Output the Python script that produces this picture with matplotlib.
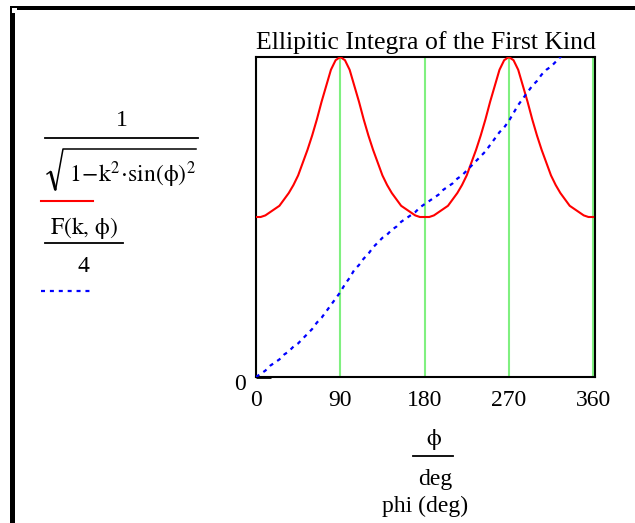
import matplotlib
matplotlib.use("Agg")
import matplotlib.pyplot as plt
from matplotlib.patches import Rectangle
from matplotlib.lines import Line2D
from matplotlib.transforms import ScaledTranslation

plt.rcParams['font.family'] = ['Liberation Serif', 'DejaVu Serif']
plt.rcParams['mathtext.fontset'] = 'stix'

# data
phi_red = list(range(0, 365, 5))
red_vals = [1.00, 1.00, 1.01, 1.03, 1.05, 1.07, 1.11, 1.15, 1.20, 1.26,
            1.34, 1.42, 1.51, 1.61, 1.72, 1.82, 1.92, 1.98, 2.00,
            1.98, 1.92, 1.82, 1.72, 1.61, 1.51, 1.42, 1.34, 1.26, 1.20,
            1.15, 1.11, 1.07, 1.05, 1.03, 1.01, 1.00, 1.00,
            1.00, 1.01, 1.03, 1.05, 1.07, 1.11, 1.15, 1.20, 1.26,
            1.34, 1.42, 1.51, 1.61, 1.72, 1.82, 1.92, 1.98, 2.00,
            1.98, 1.92, 1.82, 1.72, 1.61, 1.51, 1.42, 1.34, 1.26, 1.20,
            1.15, 1.11, 1.07, 1.05, 1.03, 1.01, 1.00, 1.00]
phi_blue = list(range(0, 365, 5))
blue_vals = [0.00, 0.02, 0.04, 0.07, 0.09, 0.11, 0.14, 0.16, 0.19, 0.21,
             0.24, 0.27, 0.30, 0.34, 0.37, 0.41, 0.45, 0.49, 0.53,
             0.58, 0.62, 0.67, 0.70, 0.74, 0.77, 0.81, 0.84, 0.87, 0.89,
             0.92, 0.94, 0.97, 0.99, 1.01, 1.03, 1.06, 1.08,
             1.10, 1.12, 1.14, 1.17, 1.19, 1.21, 1.24, 1.26, 1.29,
             1.32, 1.35, 1.38, 1.41, 1.45, 1.49, 1.53, 1.56, 1.60,
             1.65, 1.70, 1.74, 1.78, 1.82, 1.85, 1.89, 1.92, 1.94,
             1.97, 2.00, 2.02, 2.05, 2.07, 2.09, 2.11, 2.13, 2.16]
x_ticks = [0, 90, 180, 270, 360]

red = '#ff0000'
blue = '#0000ff'
green = '#80f080'
W, H = 635, 523
blue_dash = (0, (1.8, 2.2))


def fx(px):
    return px / W


def fy(py):
    return 1 - py / H


def fig_line(xs, ys, **kw):
    fig.add_artist(Line2D([fx(v) for v in xs], [fy(v) for v in ys], **kw))


fig = plt.figure(figsize=(W / 100, H / 100), dpi=100)
ax = fig.add_axes([fx(256), fy(377), 339 / W, 320 / H])

ax.plot(phi_red, red_vals, color=red, lw=1.5, zorder=3)
ax.plot(phi_blue, blue_vals, color=blue, lw=1.6, linestyle=blue_dash, zorder=4)

ax.set_xlim(0, 362)
ax.set_ylim(0, 2)
ax.set_xticks(x_ticks)
ax.set_yticks([0])
ax.grid(axis='x', color=green, lw=1.5)
ax.set_axisbelow(True)
for s in ax.spines.values():
    s.set_linewidth(1.5)
    s.set_color('black')
ax.tick_params(axis='x', length=0, pad=9, labelsize=17)
ax.tick_params(axis='y', direction='in', length=11, width=2, pad=7, labelsize=17)
for lbl in ax.get_yticklabels():
    lbl.set_transform(lbl.get_transform() + ScaledTranslation(0, -0.05, fig.dpi_scale_trans))

ax.set_title("Ellipitic Integra of the First Kind", fontsize=18.5, pad=6)

# y-axis expressions, drawn piece by piece like the Mathcad layout
fs = 17
fig.text(fx(122), fy(121), "1", fontsize=fs, ha='center', va='center')
fig_line([45, 198], [138, 138], color='black', lw=1.3)
# radical sign
fig_line([47, 50.5], [174, 171.5], color='black', lw=1.0)
fig_line([50.5, 55.5], [171.5, 190], color='black', lw=2.0, solid_capstyle='butt')
fig_line([55.5, 63, 196], [190, 149, 149], color='black', lw=1.1)
fig.text(fx(69), fy(182), r'$\mathrm{1\!-\!k}^{2}\!\cdot\!\mathrm{sin(\phi)}^{2}$',
         fontsize=fs, ha='left', va='baseline')
fig_line([41, 93], [201, 201], color=red, lw=1.5)

fig.text(fx(84), fy(228), r'$\mathrm{F(k,\,\phi)}$', fontsize=fs, ha='center', va='center')
fig_line([45, 123], [243, 243], color='black', lw=1.3)
fig.text(fx(83), fy(266), "4", fontsize=fs, ha='center', va='center')
fig_line([41, 93], [291, 291], color=blue, lw=1.6, linestyle=blue_dash)

# x-axis label
fig.text(fx(434), fy(440), r'$\mathrm{\phi}$', fontsize=fs, ha='center', va='center')
fig_line([413, 453], [456, 456], color='black', lw=1.3)
fig.text(fx(435), fy(480), "deg", fontsize=fs, ha='center', va='center')
fig.text(fx(425), fy(506), "phi (deg)", fontsize=fs, ha='center', va='center')

# region border
fig.add_artist(Rectangle((fx(10), fy(10)), 625 / W, 4 / H, color='black', lw=0))
fig.add_artist(Rectangle((fx(10), 0), 5 / W, fy(6), color='black', lw=0))
fig.add_artist(Rectangle((fx(12), fy(13)), 5 / W, 5 / H, color='white', lw=0))

fig.savefig("out.png", dpi=100)
